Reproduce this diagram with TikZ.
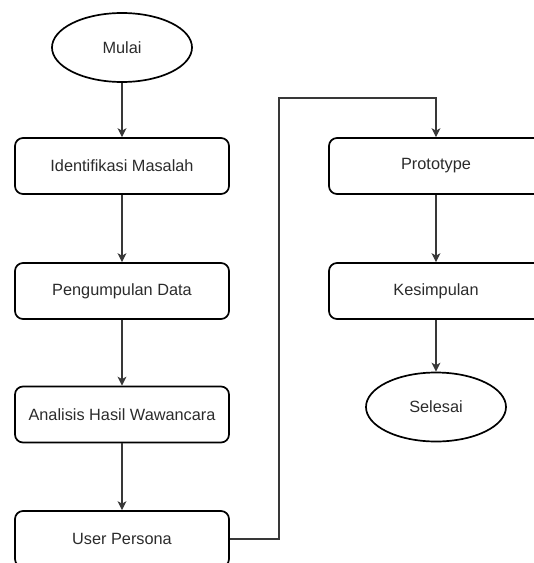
\documentclass[tikz,border=0pt]{standalone}
\usepackage{fontspec}
\setmainfont{Liberation Sans}
\usepackage{tikz}
\usetikzlibrary{arrows.meta, shapes.geometric}
\definecolor{boxline}{HTML}{000000}
\definecolor{connline}{HTML}{383838}
\definecolor{labeltext}{HTML}{2B2B2B}

\begin{document}
\begin{tikzpicture}[x=1pt, y=-1pt,
  stepbox/.style = {draw=boxline, line width=1.7pt, rounded corners=8pt, minimum width=214pt, minimum height=56pt, inner sep=0pt, align=center, text=labeltext, font=\fontsize{16.3}{19}\selectfont},
  termnode/.style = {ellipse, draw=boxline, line width=1.7pt, minimum width=140pt, minimum height=69pt, inner sep=0pt, align=center, text=labeltext, font=\fontsize{16.3}{19}\selectfont},
  arr/.style = {-{Stealth[length=9pt,width=9pt,inset=2.5pt]}, line width=1.2pt, color=connline},
]
\useasboundingbox (0,0) rectangle (534,563);
\clip (0,0) rectangle (534,563);
% left column
\node[termnode] (mulai) at (122, 47.5) {Mulai};
\node[stepbox] (ident) at (122, 166) {Identifikasi Masalah};
\node[stepbox] (kumpul) at (122, 291) {Pengumpulan Data};
\node[stepbox] (analisis) at (122, 414.5) {Analisis Hasil Wawancara};
\node[stepbox] (persona) at (122, 539) {User Persona};
% right column
\node[stepbox] (proto) at (436, 166) {Prototype};
\node[stepbox] (simpul) at (436, 291) {Kesimpulan};
\node[termnode] (selesai) at (436, 407) {Selesai};
\coordinate (bendlow) at (279, 539);
\coordinate (bendtop) at (279, 98);
\draw[arr] (mulai.south) -- (ident.north);
\draw[arr] (ident.south) -- (kumpul.north);
\draw[arr] (kumpul.south) -- (analisis.north);
\draw[arr] (analisis.south) -- (persona.north);
\draw[arr] (persona.east) -- (bendlow) -- (bendtop) -| (proto.north);
\draw[arr] (proto.south) -- (simpul.north);
\draw[arr] (simpul.south) -- (selesai.north);
\end{tikzpicture}
\end{document}
